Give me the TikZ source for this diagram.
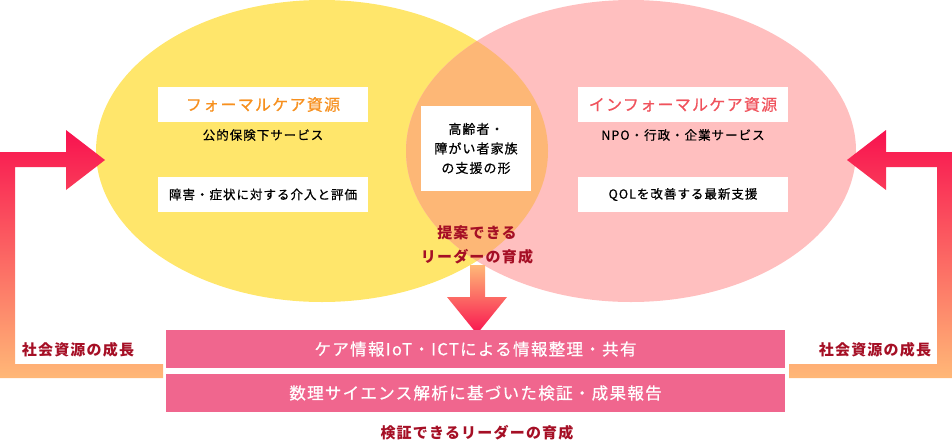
\documentclass[tikz,border=0pt]{standalone}
\usepackage{fontspec}
\setmainfont{Noto Sans CJK JP}[LetterSpace=8]
\newfontfamily\medium{Noto Sans CJK JP}[LetterSpace=8,FakeBold=0.6]
\usepackage{tkz-euclide}
\usetikzlibrary{calc}
\definecolor{formal}{HTML}{FFE66B}
\definecolor{informal}{HTML}{FFBFBF}
\definecolor{overlap}{HTML}{FDB776}
\definecolor{formaltext}{HTML}{F7901E}
\definecolor{informaltext}{HTML}{F0525C}
\definecolor{leader}{HTML}{A50F25}
\definecolor{flow}{HTML}{F8124F}
\definecolor{flowend}{HTML}{FFB877}
\definecolor{bar}{HTML}{F0668E}
\tikzset{
  titlebox/.style={fill=white,minimum width=210,minimum height=35,font=\medium\fontsize{16}{16}\selectfont},
  itembox/.style={fill=white,minimum width=210,minimum height=35,font=\medium\fontsize{12.5}{12.5}\selectfont},
  midbox/.style={fill=white,minimum width=110,minimum height=85,align=center,font=\medium\fontsize{13}{19.5}\selectfont},
  sublabel/.style={font=\medium\fontsize{12.5}{12.5}\selectfont},
  leaderlabel/.style={text=leader,align=center,font=\bfseries\fontsize{15}{24}\selectfont},
  barbox/.style={fill=bar,text=white,minimum width=619,minimum height=38.5,font=\medium\fontsize{16.5}{16.5}\selectfont},
  upflow/.style={top color=flow,bottom color=flowend},
  downflow/.style={top color=flowend,bottom color=flow}
}
\begin{document}
\begin{tikzpicture}[x=1pt,y=-1pt]
\useasboundingbox (0,0) rectangle (952,440);

\tkzDefPoint(322,151){F}
\tkzDefPoint(631,151){I}
\fill[formal] (F) ellipse [x radius=226,y radius=151];
\fill[informal] (I) ellipse [x radius=225,y radius=151];
\begin{scope}
\clip (F) ellipse [x radius=226,y radius=151];
\fill[overlap] (I) ellipse [x radius=225,y radius=151];
\end{scope}

\tkzDefPoint(0,378){A}
\tkzDefPoint(0,152){B}
\tkzDefPoint(66,152){C}
\tkzDefPoint(66,130){D}
\tkzDefPoint(105,160){E}
\tkzDefPoint(66,190){G}
\tkzDefPoint(66,167){H}
\tkzDefPoint(15,167){J}
\tkzDefPoint(15,364){K}
\tkzDefPoint(163,364){L}
\tkzDefPoint(163,378){M}
\tkzDefPoint(952,378){A'}
\tkzDefPoint(952,152){B'}
\tkzDefPoint(886,152){C'}
\tkzDefPoint(886,130){D'}
\tkzDefPoint(847,160){E'}
\tkzDefPoint(886,190){G'}
\tkzDefPoint(886,167){H'}
\tkzDefPoint(937,167){J'}
\tkzDefPoint(937,364){K'}
\tkzDefPoint(789,364){L'}
\tkzDefPoint(789,378){M'}
\shade[upflow] (A)--(B)--(C)--(D)--(E)--(G)--(H)--(J)--(K)--(L)--(M)--cycle;
\shade[upflow] (A')--(B')--(C')--(D')--(E')--(G')--(H')--(J')--(K')--(L')--(M')--cycle;

\tkzDefPoint(470,265){P}
\tkzDefPoint(485,265){Q}
\tkzDefPoint(485,297){R}
\tkzDefPoint(507,297){S}
\tkzDefPoint(477,334){T}
\tkzDefPoint(447,297){U}
\tkzDefPoint(470,297){V}
\shade[downflow] (P)--(Q)--(R)--(S)--(T)--(U)--(V)--cycle;

\node[titlebox,text=formaltext] (ft) at (263,104.5) {フォーマルケア資源};
\node[sublabel] (fs) at (263,135) {公的保険下サービス};
\node[itembox] (fi) at (263,194.5) {障害・症状に対する介入と評価};
\node[titlebox,text=informaltext] (it) at (683,104.5) {インフォーマルケア資源};
\node[sublabel] (is) at (683,135) {NPO・行政・企業サービス};
\node[itembox] (ii) at (683,194.5) {QOLを改善する最新支援};
\node[midbox] (m) at (476,148.5) {高齢者・\\障がい者家族\\の支援の形};
\node[leaderlabel] (pl) at (477,245) {提案できる\\リーダーの育成};
\node[barbox] (b1) at (475.5,349) {ケア情報IoT・ICTによる情報整理・共有};
\node[barbox] (b2) at (475.5,393) {数理サイエンス解析に基づいた検証・成果報告};
\node[leaderlabel] (vl) at (477,433) {検証できるリーダーの育成};
\node[leaderlabel] (sl) at (78,350) {社会資源の成長};
\node[leaderlabel] (sr) at (875,350) {社会資源の成長};

\end{tikzpicture}
\end{document}
